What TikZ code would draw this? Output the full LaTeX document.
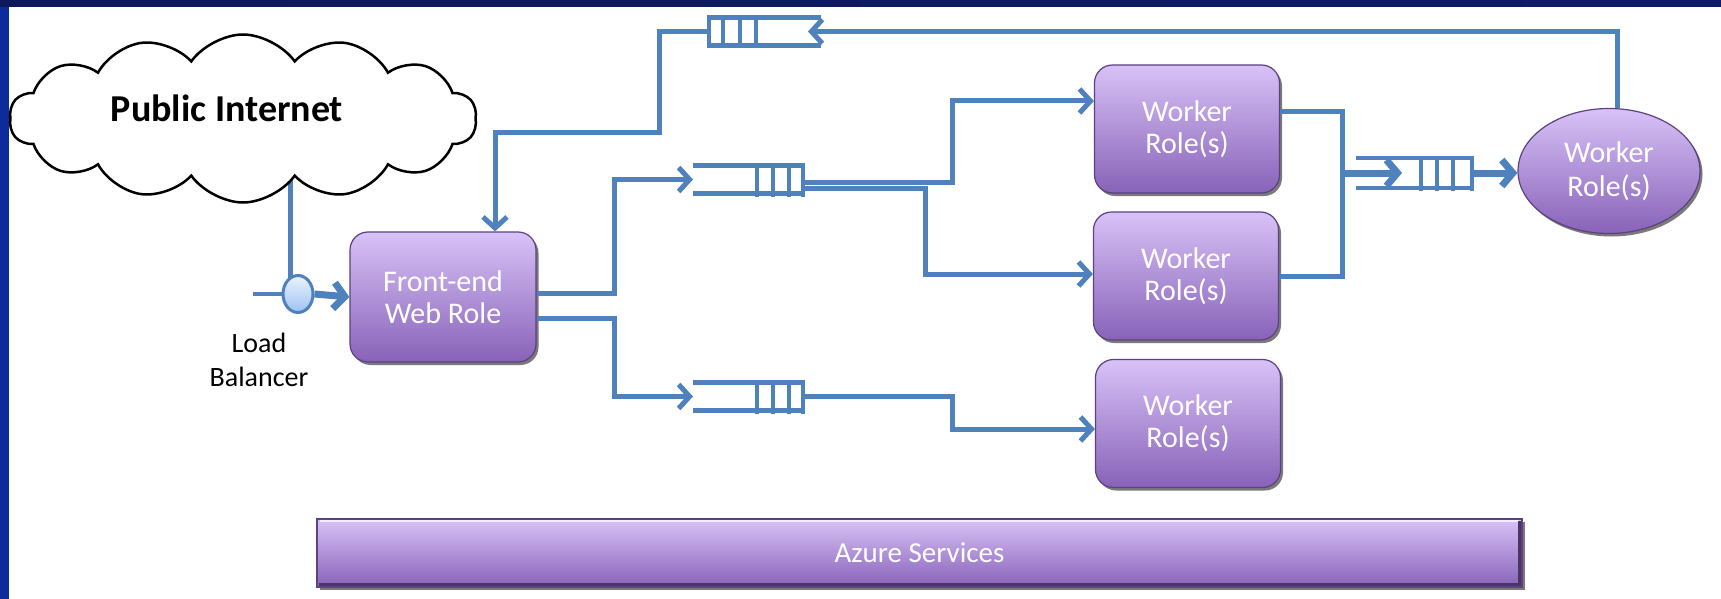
\documentclass[tikz,border=0pt]{standalone}
\usepackage{fontspec}
\setmainfont{Carlito}
\usetikzlibrary{arrows.meta,shapes.geometric,shapes.symbols,shadows,calc,backgrounds}

\definecolor{linkblue}{RGB}{79,129,189}
\definecolor{roletop}{RGB}{216,194,247}
\definecolor{rolebot}{RGB}{136,98,184}
\definecolor{roleedge}{RGB}{92,66,126}
\definecolor{framblue}{RGB}{12,44,156}
\definecolor{framdark}{RGB}{14,24,92}
\definecolor{lbtop}{RGB}{234,243,255}
\definecolor{lbbot}{RGB}{158,194,240}

\tikzset{
  link/.style={draw=linkblue, line width=5pt},
  flow/.style={link, -{Straight Barb[length=11pt,width=24pt]}},
  thickflow/.style={draw=linkblue, line width=7pt, -{Straight Barb[length=11pt,width=26pt]}},
  qline/.style={draw=linkblue, line width=4.5pt},
  queue/.style={inner sep=0pt, outer sep=0pt, minimum height=28pt},
  rolefill/.style={top color=roletop, bottom color=rolebot, draw=roleedge, line width=1.2pt,
    drop shadow={shadow xshift=2.5pt, shadow yshift=-3pt, fill=black!80, opacity=0.65}},
  role/.style={rolefill, rounded corners=18pt, text=white, align=center,
    font=\fontsize{30}{32}\selectfont, inner sep=0pt, minimum width=185pt, minimum height=128pt},
  roleell/.style={rolefill, ellipse, text=white, align=center,
    font=\fontsize{30}{34}\selectfont, inner sep=0pt, minimum width=182pt, minimum height=125pt},
  azurebar/.style={rolefill, rectangle, text=white, font=\fontsize{29}{30}\selectfont,
    inner sep=0pt, minimum width=1205pt, minimum height=68pt},
  balancer/.style={ellipse, draw=linkblue, line width=3pt, top color=lbtop, bottom color=lbbot,
    inner sep=0pt, minimum width=30pt, minimum height=37pt},
  netcloud/.style={cloud, cloud puffs=14, cloud puff arc=110, cloud ignores aspect, draw=black,
    line width=2.5pt, fill=white, inner sep=0pt, minimum width=467pt, minimum height=168pt},
}

% queue glyph: two rails plus the closed end and three message bars
\newcommand\queuelines[3]{%
  \draw[qline] (#1.north west) -- (#1.north east) (#1.south west) -- (#1.south east);
  \foreach \d in {#3}{\draw[qline] ([xshift=\d pt]#1.north #2) -- ([xshift=\d pt,yshift=-3pt]#1.south #2);}
}

\begin{document}
\begin{tikzpicture}[x=1pt,y=-1pt]
\useasboundingbox (0,0) rectangle (1721,599);

% nodes
\node[netcloud] (cloud) at (243,118.5) {};
\node[font=\bfseries\fontsize{38}{40}\selectfont] (pubtxt) at (227,108) {Public Internet};
\node[balancer] (lb) at (298,294) {};
\node[align=center, font=\fontsize{28}{34}\selectfont] (lbtxt) at (259,360) {Load\\Balancer};

\node[role, minimum width=186pt, minimum height=130pt] (fe) at (443,297) {Front-end\\Web Role};
\node[role] (w1) at (1187,129) {Worker\\Role(s)};
\node[role] (w2) at (1186,276) {Worker\\Role(s)};
\node[role] (w3) at (1188,423.5) {Worker\\Role(s)};
\node[roleell] (w4) at (1609,171) {Worker\\Role(s)};
\node[azurebar] (azure) at (919.5,553) {Azure Services};

% bevel highlights on the services bar
\draw[white!70!roletop, line width=2pt] ([shift={(4pt,-3pt)}]azure.north west) -- ([shift={(-4pt,-3pt)}]azure.north east);
\draw[roleedge!80!black, line width=2.5pt] ([shift={(3pt,3pt)}]azure.south west) -- ([shift={(-3pt,3pt)}]azure.south east) -- ([shift={(-3pt,-3pt)}]azure.north east);

% queues
\node[queue, minimum width=114pt] (q1) at (764,31.5) {};
\node[queue, minimum width=112pt] (q2) at (749,179.5) {};
\node[queue, minimum width=112pt] (q3) at (749,396.5) {};
\node[queue, minimum width=118pt, minimum height=30pt] (q4) at (1415,173) {};
\queuelines{q1}{west}{2,16,33,49}
\queuelines{q2}{east}{-2,-16,-32,-48}
\queuelines{q3}{east}{-2,-16,-32,-48}
\queuelines{q4}{east}{-2,-21,-37,-53}

% bend points
\coordinate (lbstem) at (290,279);
\coordinate (lbfeed) at (253,294);
\coordinate (j1) at (659,133);
\coordinate (r1) at (614,293);
\coordinate (r2) at (614,318);
\coordinate (b1) at (952,101);
\coordinate (b2) at (925,274);
\coordinate (b3) at (952,429);
\coordinate (m1) at (1342,173);

% slide frame and the internet feed, behind everything else
\begin{scope}[on background layer]
  \fill[framblue] (0,0) rectangle (1721,599);
  \shade[left color=framdark, right color=framdark!85!framblue] (0,0) rectangle (1721,7);
  \fill[white] (9,7) rectangle (1721,599);
  \draw[link] (cloud.center -| lbstem) -- (lbstem);
\end{scope}

% connectors
\draw[link, line width=4pt] (lbfeed) -- (lb.west);
\draw[thickflow] (lb.east) -- (fe.west);

\draw[flow] (q1.west) -| (j1) -| ([xshift=52pt]fe.north);
\draw[flow] (fe.east |- r1) -- (r1) |- (q2.west);
\draw[flow] (fe.east |- r2) -- (r2) |- (q3.west);

\draw[flow] ([yshift=-2.5pt]q2.east) -| (b1) -- (w1.west |- b1);
\draw[flow] ([yshift=-8.5pt]q2.east) -| (b2) -- (w2.west |- b2);
\draw[flow] (q3.east) -| (b3) -- (w3.west |- b3);

\draw[link] ([yshift=17pt]w1.east) -| (m1);
\draw[link] (w2.east) -| (m1);
\draw[thickflow] (m1) -- ($(q4.west)+(46,0)$);
\draw[thickflow] (q4.east) -- (q4.east -| w4.west);

\draw[flow] ([xshift=8pt]w4.north) |- ($(q1.east)+(-13,0)$);
\end{tikzpicture}
\end{document}
